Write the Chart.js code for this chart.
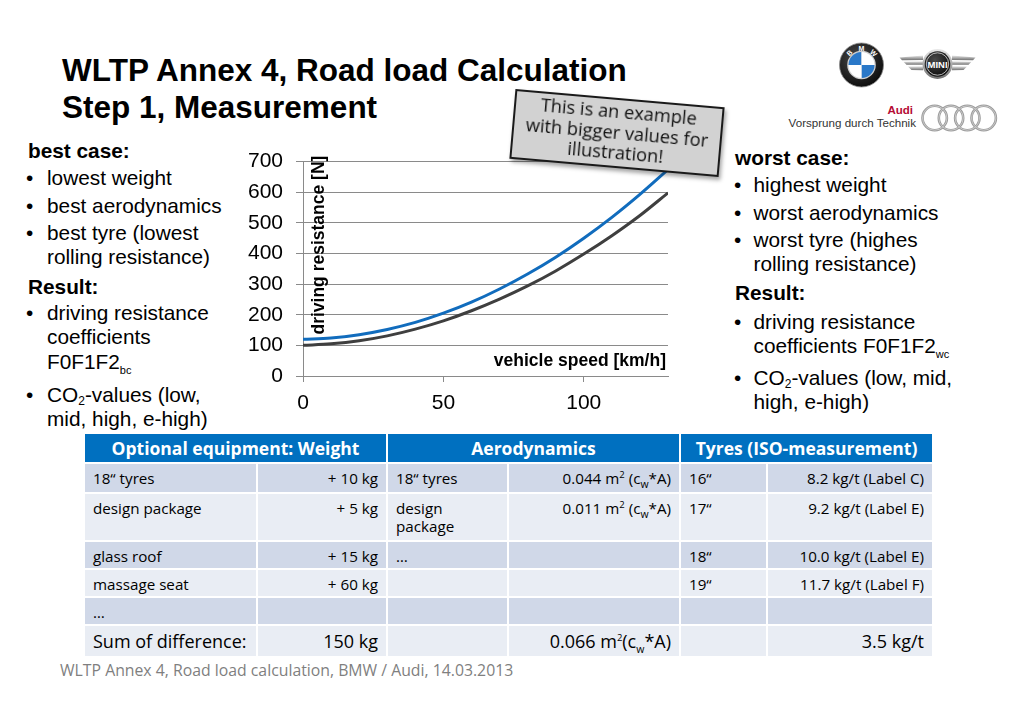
<!DOCTYPE html>
<html><head><meta charset="utf-8">
<script src="https://cdn.jsdelivr.net/npm/chart.js@4.4.0/dist/chart.umd.min.js"></script>
<style>
html,body{margin:0;padding:0;background:#fff;}
body{width:1024px;height:708px;position:relative;overflow:hidden;font-family:"Liberation Sans",Arial,sans-serif;color:#000;}
.abs{position:absolute;white-space:nowrap;}
.title{left:62px;font-weight:bold;font-size:31.5px;line-height:36px;}
.bt{font-size:20.8px;line-height:22px;}
.b{font-weight:bold;}
.sub{font-size:11px;position:relative;top:5px;line-height:0;}
.sub2{font-size:12px;position:relative;top:3px;line-height:0;}
#chartBox{position:absolute;left:220px;top:136px;width:460px;height:289px;}
#callout{position:absolute;left:512px;top:98px;width:210px;height:70px;box-sizing:border-box;background:#d2d2d2;border:2.5px solid #1a1a1a;transform:rotate(5deg);font-family:"Open Sans",sans-serif;font-size:18.3px;line-height:20.5px;text-align:center;color:#111;padding-top:1px;box-shadow:2px 3px 4px rgba(0,0,0,0.35);}
#tbl{position:absolute;left:85px;top:434px;display:grid;grid-template-columns:171px 128px 119px 170px 85px 164px;grid-template-rows:28px 28px 46px 26px 26px 26px 30px;gap:2px;background:#fff;font-family:"Open Sans",sans-serif;font-size:15.2px;line-height:18px;}
#tbl div{box-sizing:border-box;padding:5px 8px 0 8px;white-space:nowrap;}
#tbl .h{background:#0070C0;color:#fff;font-weight:bold;font-size:17.5px;text-align:center;padding:0;line-height:28px;letter-spacing:0px;}
#tbl .d{background:#D0D8E8;}
#tbl .l{background:#E9EDF4;}
#tbl .r{text-align:right;}
#tbl .big{font-size:18px;line-height:30px;padding-top:0;}
#tbl sup{font-size:9.5px;line-height:0;}
#tbl sub{font-size:10.5px;line-height:0;}
#footer{position:absolute;left:60px;top:660px;font-family:"Open Sans",sans-serif;font-size:15.8px;line-height:20px;color:#7f7f7f;white-space:nowrap;}
</style>
</head>
<body>
<div class="abs title" style="top:52px;">WLTP Annex 4, Road load Calculation</div>
<div class="abs title" style="top:89px;">Step 1, Measurement</div>

<svg class="abs" style="left:780px;top:30px;" width="230" height="110" viewBox="780 30 230 110">
  <defs>
    <linearGradient id="silver" x1="0" y1="0" x2="0" y2="1">
      <stop offset="0" stop-color="#eaeaea"/><stop offset="0.5" stop-color="#ababab"/><stop offset="1" stop-color="#707070"/>
    </linearGradient>
    <radialGradient id="blk" cx="0.4" cy="0.35" r="0.7">
      <stop offset="0" stop-color="#4a4a4a"/><stop offset="1" stop-color="#0a0a0a"/>
    </radialGradient>
  </defs>
  <!-- BMW -->
  <circle cx="861.5" cy="65" r="22" fill="url(#blk)" stroke="#8a8a8a" stroke-width="0.8"/>
  <circle cx="861.5" cy="65" r="14.3" fill="#cfcfcf"/>
  <path d="M861.5,65 L848.5,65 A13,13 0 0 1 861.5,52 Z" fill="#2a78c8"/>
  <path d="M861.5,65 L861.5,52 A13,13 0 0 1 874.5,65 Z" fill="#ffffff"/>
  <path d="M861.5,65 L874.5,65 A13,13 0 0 1 861.5,78 Z" fill="#2a78c8"/>
  <path d="M861.5,65 L861.5,78 A13,13 0 0 1 848.5,65 Z" fill="#ffffff"/>
  <g fill="#fff" font-family="Liberation Sans" font-weight="bold" font-size="7" text-anchor="middle">
    <text x="849.5" y="55.5" transform="rotate(-45 849.5 53)">B</text>
    <text x="861.5" y="50.5">M</text>
    <text x="873.5" y="55.5" transform="rotate(45 873.5 53)">W</text>
  </g>
  <!-- MINI -->
  <g fill="url(#silver)">
    <path d="M923,55.5 L899.5,57.5 L902,60.2 L923,60 Z"/>
    <path d="M923,61.3 L903.5,61.7 L906.5,64.8 L923,64.8 Z"/>
    <path d="M923,66.2 L908,66.6 L911.5,70 L923,70.2 Z"/>
    <path d="M952,55.5 L975.5,57.5 L973,60.2 L952,60 Z"/>
    <path d="M952,61.3 L971.5,61.7 L968.5,64.8 L952,64.8 Z"/>
    <path d="M952,66.2 L967,66.6 L963.5,70 L952,70.2 Z"/>
  </g>
  <circle cx="937.5" cy="64" r="15" fill="url(#silver)"/>
  <circle cx="937.5" cy="64" r="12.8" fill="url(#blk)"/>
  <circle cx="937.5" cy="64" r="11.2" fill="none" stroke="#e0e0e0" stroke-width="0.8"/>
  <text x="937.5" y="67.5" fill="#fff" font-family="Liberation Sans" font-weight="bold" font-size="9.5" text-anchor="middle">MINI</text>
  <!-- Audi -->
  <text x="913" y="114" text-anchor="end" fill="#b50a34" font-family="Liberation Sans" font-weight="bold" font-size="11.5">Audi</text>
  <text x="916" y="127" text-anchor="end" fill="#333" font-family="Liberation Sans" font-size="11.6">Vorsprung durch Technik</text>
  <g fill="none" stroke="#9b9b9b" stroke-width="2.6">
    <circle cx="934.7" cy="118" r="12.2"/><circle cx="951" cy="118" r="12.2"/>
    <circle cx="967.3" cy="118" r="12.2"/><circle cx="983.7" cy="118" r="12.2"/>
  </g>
  <g fill="none" stroke="#d4d4d4" stroke-width="0.8">
    <circle cx="934.7" cy="118" r="12.2"/><circle cx="951" cy="118" r="12.2"/>
    <circle cx="967.3" cy="118" r="12.2"/><circle cx="983.7" cy="118" r="12.2"/>
  </g>
</svg>

<!-- left text -->
<div class="abs bt b" style="left:28px;top:139.5px;">best case:</div>
<div class="abs bt" style="left:26px;top:167px;">•</div><div class="abs bt" style="left:47px;top:167px;">lowest weight</div>
<div class="abs bt" style="left:26px;top:195px;">•</div><div class="abs bt" style="left:47px;top:195px;">best aerodynamics</div>
<div class="abs bt" style="left:26px;top:222px;">•</div><div class="abs bt" style="left:47px;top:222px;">best tyre (lowest</div>
<div class="abs bt" style="left:47px;top:246px;">rolling resistance)</div>
<div class="abs bt b" style="left:28px;top:275.5px;">Result:</div>
<div class="abs bt" style="left:26px;top:302px;">•</div><div class="abs bt" style="left:47px;top:302px;">driving resistance</div>
<div class="abs bt" style="left:47px;top:326px;">coefficients</div>
<div class="abs bt" style="left:47px;top:351px;">F0F1F2<span class="sub">bc</span></div>
<div class="abs bt" style="left:26px;top:384px;">•</div><div class="abs bt" style="left:47px;top:384px;">CO<span class="sub2">2</span>-values (low,</div>
<div class="abs bt" style="left:47px;top:408px;">mid, high, e-high)</div>

<!-- right text -->
<div class="abs bt b" style="left:735px;top:147.3px;">worst case:</div>
<div class="abs bt" style="left:734px;top:174px;">•</div><div class="abs bt" style="left:753.5px;top:174px;">highest weight</div>
<div class="abs bt" style="left:734px;top:201.7px;">•</div><div class="abs bt" style="left:753.5px;top:201.7px;">worst aerodynamics</div>
<div class="abs bt" style="left:734px;top:229px;">•</div><div class="abs bt" style="left:753.5px;top:229px;">worst tyre (highes</div>
<div class="abs bt" style="left:753.5px;top:253px;">rolling resistance)</div>
<div class="abs bt b" style="left:735px;top:282.3px;">Result:</div>
<div class="abs bt" style="left:734px;top:310.7px;">•</div><div class="abs bt" style="left:753.5px;top:310.7px;">driving resistance</div>
<div class="abs bt" style="left:753.5px;top:335px;">coefficients F0F1F2<span class="sub">wc</span></div>
<div class="abs bt" style="left:734px;top:366.7px;">•</div><div class="abs bt" style="left:753.5px;top:366.7px;">CO<span class="sub2">2</span>-values (low, mid,</div>
<div class="abs bt" style="left:753.5px;top:390.7px;">high, e-high)</div>

<div id="chartBox"><canvas id="c" width="460" height="289"></canvas></div>

<div id="callout">This is an example<br>with bigger values for<br>illustration!</div>

<div id="tbl">
  <div class="h" style="grid-column:1/3">Optional equipment: Weight</div>
  <div class="h" style="grid-column:3/5">Aerodynamics</div>
  <div class="h" style="grid-column:5/7">Tyres (ISO-measurement)</div>

  <div class="d">18“ tyres</div><div class="d r">+ 10 kg</div><div class="d">18“ tyres</div><div class="d r">0.044 m<sup>2</sup> (c<sub>w</sub>*A)</div><div class="d">16“</div><div class="d r">8.2 kg/t (Label C)</div>

  <div class="l">design package</div><div class="l r">+ 5 kg</div><div class="l">design<br>package</div><div class="l r">0.011 m<sup>2</sup> (c<sub>w</sub>*A)</div><div class="l">17“</div><div class="l r">9.2 kg/t (Label E)</div>

  <div class="d">glass roof</div><div class="d r">+ 15 kg</div><div class="d">…</div><div class="d"></div><div class="d">18“</div><div class="d r">10.0 kg/t (Label E)</div>

  <div class="l">massage seat</div><div class="l r">+ 60 kg</div><div class="l"></div><div class="l"></div><div class="l">19“</div><div class="l r">11.7 kg/t (Label F)</div>

  <div class="d">…</div><div class="d"></div><div class="d"></div><div class="d"></div><div class="d"></div><div class="d"></div>

  <div class="l big">Sum of difference:</div><div class="l r big">150 kg</div><div class="l big"></div><div class="l r big">0.066 m<sup>2</sup>(c<sub>w</sub>*A)</div><div class="l big"></div><div class="l r big">3.5 kg/t</div>
</div>

<div id="footer">WLTP Annex 4, Road load calculation, BMW / Audi, 14.03.2013</div>

<script>
// ---- chart data ----
const speeds    = [0, 10, 20, 30, 40, 50, 60, 70, 80, 90, 100, 110, 120, 130];
const worstCase = [120, 124, 135, 152, 175, 205, 241, 284, 333, 388, 450, 518, 593, 674];
const bestCase  = [100, 105, 115, 131, 153, 180, 213, 251, 294, 343, 398, 458, 524, 598];
const xTicks = [0, 50, 100];
const yTicks = [0, 100, 200, 300, 400, 500, 600, 700];
const xTitle = 'vehicle speed [km/h]';
const yTitle = 'driving resistance [N]';

const axisTitles = {
  id: 'axisTitles',
  afterDraw(chart) {
    const {ctx, chartArea} = chart;
    ctx.save();
    ctx.fillStyle = '#000';
    ctx.font = 'bold 17.5px "Liberation Sans", Arial, sans-serif';
    ctx.textAlign = 'right';
    ctx.textBaseline = 'alphabetic';
    ctx.fillText(xTitle, chartArea.right - 2, chartArea.bottom - 10);
    ctx.translate(chartArea.left + 21, chartArea.top - 6);
    ctx.rotate(-Math.PI / 2);
    ctx.fillText(yTitle, 0, 0);
    ctx.restore();
  }
};

const gridCol = '#8a8a8a';
const tickFont = {family: '"Liberation Sans", Arial, sans-serif', size: 21};

new Chart(document.getElementById('c'), {
  type: 'line',
  data: {
    datasets: [
      {label: 'worst case', data: speeds.map((v, i) => ({x: v, y: worstCase[i]})),
       borderColor: '#116cbd', borderWidth: 3, pointRadius: 0, cubicInterpolationMode: 'monotone', fill: false},
      {label: 'best case', data: speeds.map((v, i) => ({x: v, y: bestCase[i]})),
       borderColor: '#3f3f3f', borderWidth: 3, pointRadius: 0, cubicInterpolationMode: 'monotone', fill: false}
    ]
  },
  options: {
    responsive: false,
    animation: false,
    events: [],
    layout: {padding: {top: 0, right: 12, left: 0, bottom: 0}},
    plugins: {legend: {display: false}, tooltip: {enabled: false}},
    scales: {
      x: {
        type: 'linear', min: 0, max: 130,
        afterBuildTicks: s => { s.ticks = xTicks.map(v => ({value: v})); },
        afterFit: s => { s.height = 49; },
        grid: {drawOnChartArea: false, drawTicks: true, tickLength: 6, color: gridCol, lineWidth: 1},
        border: {display: true, color: gridCol, width: 1},
        ticks: {padding: 9, font: tickFont, color: '#000', maxRotation: 0, autoSkip: false}
      },
      y: {
        type: 'linear', min: 0, max: 700,
        afterBuildTicks: s => { s.ticks = yTicks.map(v => ({value: v})); },
        afterFit: s => { s.width = 83; },
        grid: {drawTicks: true, tickLength: 7, color: gridCol, lineWidth: 1},
        border: {display: true, color: gridCol, width: 1},
        ticks: {padding: 13, font: tickFont, color: '#000', autoSkip: false}
      }
    }
  },
  plugins: [axisTitles]
});
</script>
</body></html>
